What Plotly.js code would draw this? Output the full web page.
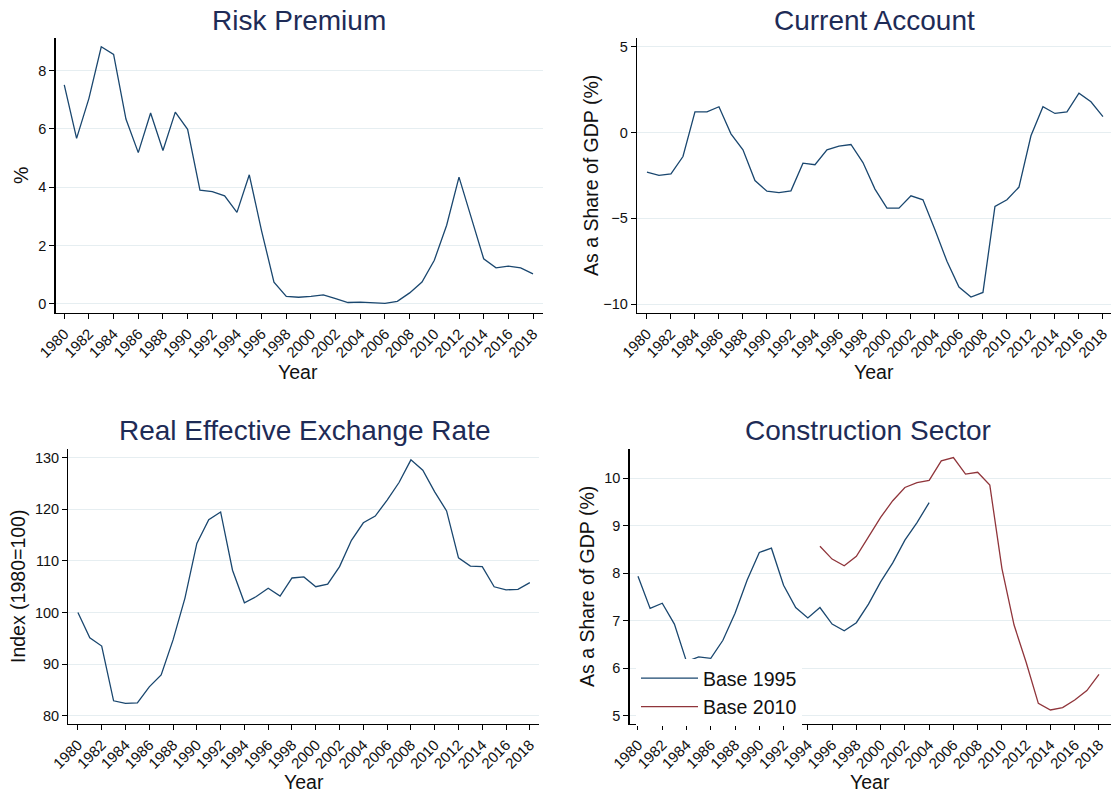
<!DOCTYPE html>
<html>
<head>
<meta charset="utf-8">
<script src="https://cdn.plot.ly/plotly-3.0.1.min.js"></script>
<style>html,body{margin:0;padding:0;background:#fff;}#chart{width:1111px;height:793px;}</style>
</head>
<body>
<div id="chart"></div>
<script>
// ---- data ----
const years = [];
for (let y = 1980; y <= 2018; y++) years.push(y);

const riskPremium = [7.51, 5.68, 7.05, 8.82, 8.56, 6.34, 5.19, 6.55, 5.26, 6.58,
  5.99, 3.90, 3.85, 3.71, 3.14, 4.43, 2.50, 0.75, 0.26, 0.23,
  0.26, 0.31, 0.18, 0.05, 0.06, 0.03, 0.02, 0.09, 0.38, 0.75,
  1.50, 2.70, 4.35, 2.95, 1.55, 1.24, 1.30, 1.24, 1.03];

const currentAccount = [-2.31, -2.50, -2.41, -1.40, 1.20, 1.20, 1.50, -0.08, -1.01, -2.80,
  -3.42, -3.50, -3.40, -1.79, -1.88, -1.01, -0.80, -0.70, -1.75, -3.30,
  -4.41, -4.41, -3.69, -3.92, -5.67, -7.51, -9.01, -9.59, -9.32, -4.31,
  -3.92, -3.18, -0.19, 1.50, 1.11, 1.20, 2.29, 1.79, 0.93];

const reer = [100.0, 95.1, 93.5, 82.9, 82.4, 82.5, 85.6, 87.9, 94.7, 102.8,
  113.4, 118.0, 119.5, 108.2, 101.9, 103.1, 104.7, 103.2, 106.7, 106.9,
  105.0, 105.5, 108.9, 114.0, 117.4, 118.7, 121.8, 125.2, 129.6, 127.6,
  123.4, 119.7, 110.6, 109.0, 108.9, 105.0, 104.4, 104.5, 105.8];

const years1995 = [];
for (let y = 1980; y <= 2004; y++) years1995.push(y);
const construction1995 = [7.94, 7.26, 7.37, 6.93, 6.14, 6.24, 6.21, 6.59, 7.16, 7.86,
  8.44, 8.53, 7.75, 7.28, 7.06, 7.28, 6.93, 6.79, 6.96, 7.35,
  7.82, 8.22, 8.70, 9.07, 9.49];

const years2010 = [];
for (let y = 1995; y <= 2018; y++) years2010.push(y);
const construction2010 = [8.57, 8.30, 8.16, 8.36, 8.77, 9.18, 9.53, 9.81, 9.91, 9.96,
  10.37, 10.44, 10.09, 10.13, 9.86, 8.10, 6.91, 6.12, 5.26, 5.12,
  5.17, 5.33, 5.53, 5.87];

const panelTitles = ['Risk Premium', 'Current Account', 'Real Effective Exchange Rate', 'Construction Sector'];
const yTitles = ['%', 'As a Share of GDP (%)', 'Index (1980=100)', 'As a Share of GDP (%)'];
const xTitle = 'Year';
const seriesNames = ['Base 1995', 'Base 2010'];

// ---- styles ----
const BLUE = '#1a476f';
const RED = '#90353b';
const NAVY = '#1e2b56';
const FONT = 'Liberation Sans, Arial, Helvetica, sans-serif';
const W = 1111, H = 793;

const traces = [
  {x: years, y: riskPremium, xaxis: 'x', yaxis: 'y', type: 'scatter', mode: 'lines',
   line: {color: BLUE, width: 1.3}, showlegend: false},
  {x: years, y: currentAccount, xaxis: 'x2', yaxis: 'y2', type: 'scatter', mode: 'lines',
   line: {color: BLUE, width: 1.3}, showlegend: false},
  {x: years, y: reer, xaxis: 'x3', yaxis: 'y3', type: 'scatter', mode: 'lines',
   line: {color: BLUE, width: 1.3}, showlegend: false},
  {x: years1995, y: construction1995, xaxis: 'x4', yaxis: 'y4', type: 'scatter', mode: 'lines',
   name: seriesNames[0], line: {color: BLUE, width: 1.3}},
  {x: years2010, y: construction2010, xaxis: 'x4', yaxis: 'y4', type: 'scatter', mode: 'lines',
   name: seriesNames[1], line: {color: RED, width: 1.3}}
];

function xa(dom, range, anchor) {
  return {domain: dom, range: range, anchor: anchor, tickmode: 'linear', tick0: 1980, dtick: 2,
    tickangle: -45, ticks: 'outside', ticklen: 5, tickwidth: 1, tickcolor: '#000',
    showline: true, linecolor: '#000', linewidth: 1.3, showgrid: false, zeroline: false,
    tickfont: {family: FONT, size: 15, color: '#111'}, fixedrange: true};
}
function ya(dom, range, anchor, dtick, tick0) {
  return {domain: dom, range: range, anchor: anchor, tickmode: 'linear', tick0: tick0, dtick: dtick,
    ticks: 'outside', ticklen: 5, tickwidth: 1, tickcolor: '#000',
    showline: true, linecolor: '#000', linewidth: 1.3, showgrid: true, gridcolor: '#e6eef1', gridwidth: 1,
    zeroline: false, tickfont: {family: FONT, size: 14.5, color: '#111'}, fixedrange: true};
}
const px = v => v / W;
const py = v => 1 - v / H;

const topY = [py(313), py(38.3)];
const botY = [py(724), py(449)];

const layout = {
  width: W, height: H, margin: {l: 0, r: 0, t: 0, b: 0},
  paper_bgcolor: '#fff', plot_bgcolor: '#fff',
  font: {family: FONT, color: '#111'},
  xaxis: xa([px(55.5), px(543)], [1979.29, 2018.81], 'y'),
  yaxis: ya(topY, [-0.31, 9.11], 'x', 2, 0),
  xaxis2: xa([px(637), 1], [1979.17, 2018.67], 'y2'),
  yaxis2: ya(topY, [-10.52, 5.49], 'x2', 5, -10),
  xaxis3: xa([px(68.4), px(539)], [1979.2, 2018.77], 'y3'),
  yaxis3: ya(botY, [78.4, 131.7], 'x3', 10, 80),
  xaxis4: xa([px(629.5), 1], [1979.3, 2018.99], 'y4'),
  yaxis4: ya(botY, [4.825, 10.62], 'x4', 1, 5),
  showlegend: true,
  legend: {x: px(636), y: py(659), xanchor: 'left', yanchor: 'top', bgcolor: '#fff',
    font: {family: FONT, size: 19.5, color: '#111'}, tracegroupgap: 0, itemwidth: 57},
  annotations: []
};

const titlePos = [[299, 20], [874, 20], [304, 430], [868, 430]];
titlePos.forEach((p, i) => layout.annotations.push({
  text: panelTitles[i], xref: 'paper', yref: 'paper', x: px(p[0]), y: py(p[1]),
  xanchor: 'center', yanchor: 'middle', showarrow: false,
  font: {family: FONT, size: 28, color: NAVY}}));

const xtPos = [[298, 372], [874, 372], [304, 782], [870, 782]];
xtPos.forEach(p => layout.annotations.push({
  text: xTitle, xref: 'paper', yref: 'paper', x: px(p[0]), y: py(p[1]),
  xanchor: 'center', yanchor: 'middle', showarrow: false,
  font: {family: FONT, size: 19.5, color: '#111'}}));

const ytPos = [[21, 176], [591, 176], [18, 587], [587, 587]];
ytPos.forEach((p, i) => layout.annotations.push({
  text: yTitles[i], xref: 'paper', yref: 'paper', x: px(p[0]), y: py(p[1]),
  xanchor: 'center', yanchor: 'middle', showarrow: false, textangle: -90,
  font: {family: FONT, size: 19.5, color: '#111'}}));

Plotly.newPlot('chart', traces, layout, {displayModeBar: false, staticPlot: true});
</script>
</body>
</html>
